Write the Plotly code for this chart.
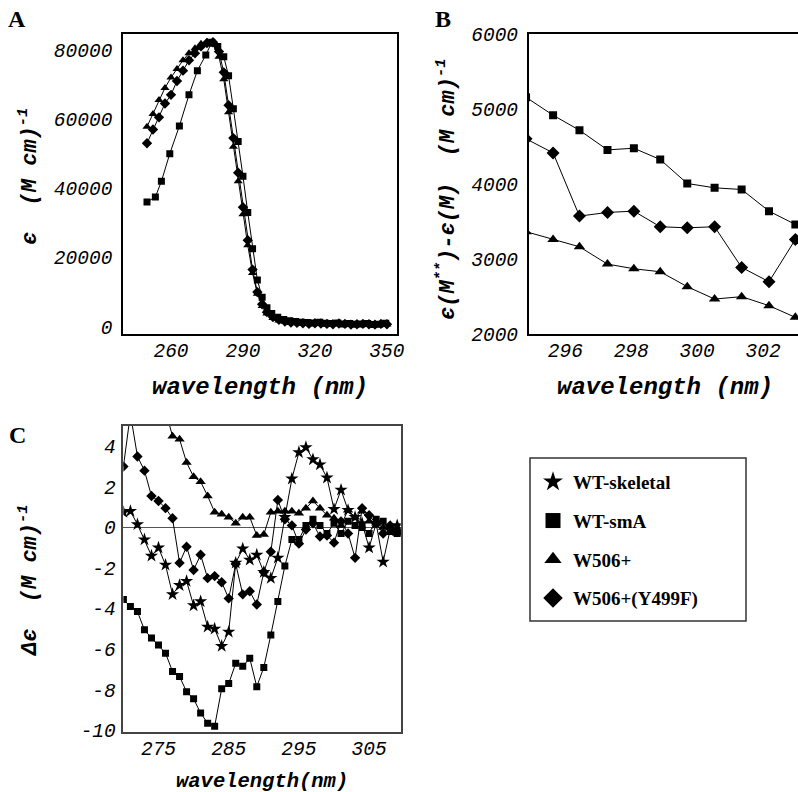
import plotly.graph_objects as go

# ---------------- Panel A data ----------------
a_sq_x = [250, 253.5, 256, 259.5, 263.5, 267.5, 271, 274.5, 277, 279.5, 282, 284, 286, 288, 290, 292, 294, 296, 298, 300,
          302, 304.5, 307, 309.5, 312, 314.5, 317, 319.5, 322, 324.5, 327, 329.5, 332, 334.5, 337, 339.5, 342, 344.5, 347, 349.5]
a_sq_y = [36000, 37500, 42000, 50000, 58000, 67000, 74000, 78500, 82200, 81000, 78000, 72500, 63000, 53500, 43500, 33000,
          22500, 13500, 8500, 5500, 3800, 2700, 2100, 1700, 1500, 1300, 1200, 1100, 1300, 1000, 900, 1100, 800, 900, 700,
          800, 900, 600, 700, 1000]
a_tri_x = [250, 252.5, 255, 257.5, 260, 262.5, 265, 267.5, 270, 272.5, 275, 277.5, 280, 282, 284, 286, 288, 290, 292, 294,
           296, 298, 300, 302.5, 305, 307.5, 310, 312.5, 315, 317.5, 320, 322.5, 325, 327.5, 330, 332.5, 335, 337.5, 340,
           342.5, 345, 347.5, 350]
a_tri_y = [57800, 61500, 65500, 69000, 72000, 74500, 77000, 79000, 80500, 81800, 82300, 81500, 78000, 71500, 62000, 52000,
           42000, 32500, 23500, 15500, 9500, 6000, 3800, 2500, 1800, 1400, 1100, 1000, 900, 1000, 800, 900, 700, 800, 900,
           600, 700, 600, 800, 600, 700, 500, 600]
a_dia_x = a_tri_x
a_dia_y = [53000, 57000, 60500, 64500, 67000, 71000, 74000, 77000, 79000, 81000, 82000, 82200, 79500, 73500, 64000, 54500,
           44500, 34500, 25000, 16500, 10000, 6500, 4200, 2800, 2000, 1500, 1200, 1100, 1000, 800, 1000, 900, 800, 700,
           900, 800, 600, 700, 800, 700, 600, 800, 700]
a_yticks = [0, 20000, 40000, 60000, 80000]
a_xticks = [260, 290, 320, 350]

# ---------------- Panel B data ----------------
b_x = [294.81, 295.63, 296.43, 297.28, 298.08, 298.88, 299.7, 300.53, 301.35, 302.18, 302.98]
b_sq = [5160, 4921, 4721, 4459, 4481, 4330, 4011, 3953, 3931, 3642, 3465]
b_dia = [4606, 4419, 3576, 3625, 3642, 3434, 3420, 3434, 2892, 2701, 3265]
b_tri = [3368, 3265, 3167, 2936, 2874, 2834, 2635, 2470, 2502, 2382, 2226]
b_yticks = [2000, 3000, 4000, 5000, 6000]
b_xticks = [296, 298, 300, 302]

# ---------------- Panel C data ----------------
c_x = list(range(270, 311))
c_star = [0.75, 0.8, 0.15, -0.6, -1.4, -1.0, -1.85, -3.3, -2.85, -2.65, -3.85, -3.65, -4.9, -5.0, -5.85, -5.15, -1.75,
          -1.05, -1.6, -1.35, -2.2, -2.5, -1.5, 0.5, 2.4, 3.7, 3.95, 3.35, 3.1, 2.45, 0.9, 1.85, 0.85, 0.5, 0.2, -1.0,
          0.2, -1.7, -0.1, 0.1, -0.2]
c_sq = [-3.55, -3.9, -4.15, -5.05, -5.45, -5.8, -6.2, -7.1, -7.35, -8.1, -8.45, -9.15, -9.65, -9.8, -7.95, -7.7, -6.7,
        -6.85, -6.45, -7.85, -6.9, -5.3, -3.65, -1.9, -0.6, -0.6, 0.1, 0.4, 0.1, -0.3, 0.2, -0.3, 0.3, 0.1, 0.0, -0.3,
        0.4, 0.3, -0.2, -0.3, -0.2]
c_tri_x = list(range(276, 311))
c_tri = [5.75, 4.5, 4.35, 3.2, 2.5, 2.25, 1.55, 0.75, 0.65, 0.5, 0.2, 0.5, 0.5, -0.4, -0.35, 0.75, 0.8, 0.8, 0.8, 0.7,
         0.95, 1.3, 0.95, 0.6, 0.45, 0.1, 0.85, 0.5, 0.8, 0.3, 0.2, 0.0, -0.2, -0.3, -0.2]
c_dia = [3.0, 5.6, 3.5, 2.8, 1.55, 1.3, 0.95, 0.45, -1.75, -0.95, -2.1, -1.35, -2.5, -2.4, -2.7, -3.5, -1.8, -3.3, -3.15,
         -3.8, -2.2, -1.2, 1.35, 0.4, 0.1, -0.8, -0.1, 0.2, -0.45, -0.4, -0.75, 0.3, -0.3, -1.5, 0.95, 0.6, 0.2, -0.3,
         0.1, -0.2, -0.3]
c_yticks = [-10, -8, -6, -4, -2, 0, 2, 4]
c_xticks = [275, 285, 295, 305]

series_names = ["WT-skeletal", "WT-smA", "W506+", "W506+(Y499F)"]
series_symbols = ["star", "square", "triangle-up", "diamond"]

W, H = 798, 792


def px_x(p):
    return p / W


def px_y(p):
    return 1 - p / H


fig = go.Figure()


def add(x, y, sym, size, xa, ya):
    fig.add_trace(go.Scatter(
        x=x, y=y, mode="lines+markers", xaxis=xa, yaxis=ya, showlegend=False,
        line=dict(color="black", width=1),
        marker=dict(symbol=sym, size=size, color="black", line=dict(width=0)),
        hoverinfo="skip"))


# Panel A
add(a_sq_x, a_sq_y, "square", 7, "x", "y")
add(a_tri_x, a_tri_y, "triangle-up", 8, "x", "y")
add(a_dia_x, a_dia_y, "diamond", 8, "x", "y")
# Panel B
add(b_x, b_sq, "square", 8, "x2", "y2")
add(b_x, b_dia, "diamond", 10, "x2", "y2")
add(b_x, b_tri, "triangle-up", 10, "x2", "y2")
# Panel C
add(c_x, c_sq, "square", 7, "x3", "y3")
add(c_tri_x, c_tri, "triangle-up", 9, "x3", "y3")
add(c_x, c_dia, "diamond", 8, "x3", "y3")
add(c_x, c_star, "star", 10, "x3", "y3")

# legend entries
for i, (nm, sym) in enumerate(zip(series_names, series_symbols)):
    fig.add_trace(go.Scatter(
        x=[None], y=[None], mode="markers", xaxis="x3", yaxis="y3", name=nm,
        legendgroup=nm, marker=dict(symbol=sym, size=15, color="black", line=dict(width=0))))

tickfont = dict(family="Liberation Mono", size=19.5, color="black", style="italic")
axis_common = dict(showgrid=False, zeroline=False, showline=True, linecolor="black", linewidth=1.5,
                   ticks="", tickfont=tickfont, automargin=False)

fig.update_layout(
    template="none",
    width=W, height=H, margin=dict(l=0, r=0, t=0, b=0, pad=0),
    plot_bgcolor="white", paper_bgcolor="white",
    xaxis=dict(domain=[px_x(123), px_x(397)], range=[240, 354.2], tickvals=a_xticks,
               ticktext=[str(v) for v in a_xticks], mirror=True,
               anchor="y", ticklabelstandoff=-2, **axis_common),
    yaxis=dict(domain=[px_y(334.3), px_y(34.3)], range=[-2200, 84500], tickvals=a_yticks,
               ticktext=[str(v) for v in a_yticks], mirror=True,
               anchor="x", ticklabelstandoff=5, **axis_common),
    xaxis2=dict(domain=[px_x(528.7), 1.0], range=[294.89, 303.06], tickvals=b_xticks,
                ticktext=[str(v) for v in b_xticks], mirror=True,
                anchor="y2", ticklabelstandoff=-2, **axis_common),
    yaxis2=dict(domain=[px_y(334.3), px_y(34.3)], range=[2000, 6000], tickvals=b_yticks,
                ticktext=[str(v) for v in b_yticks], mirror=False,
                anchor="x2", ticklabelstandoff=5, **axis_common),
    xaxis3=dict(domain=[px_x(123.4), px_x(400.7)], range=[270, 309.5], tickvals=c_xticks,
                ticktext=[str(v) for v in c_xticks], mirror=True,
                anchor="y3", ticklabelstandoff=-2, **{**axis_common, "linecolor": "#444"}),
    yaxis3=dict(domain=[px_y(732.3), px_y(426)], range=[-10.1, 5.0], tickvals=c_yticks,
                ticktext=[str(v) for v in c_yticks], mirror=True,
                anchor="x3", ticklabelstandoff=2, **{**axis_common, "linecolor": "#444", "zeroline": True,
                                                     "zerolinecolor": "#555", "zerolinewidth": 1.2}),
    legend=dict(x=px_x(533), y=px_y(463), xanchor="left", yanchor="top",
                borderwidth=0, bgcolor="rgba(0,0,0,0)",
                font=dict(family="Liberation Serif", size=19, color="black", weight="bold"),
                tracegroupgap=11, itemsizing="trace"),
    shapes=[dict(type="rect", xref="paper", yref="paper", x0=px_x(530), x1=px_x(746),
                 y0=px_y(621), y1=px_y(458), line=dict(color="#333", width=1.5),
                 fillcolor="rgba(0,0,0,0)", layer="above")],
)

title_font = dict(family="Liberation Mono", size=22, color="black", weight="bold", style="italic")
xt_font = dict(family="Liberation Mono", size=24, color="black", weight="bold", style="italic")
xt_font_c = dict(family="Liberation Mono", size=20.5, color="black", weight="bold", style="italic")
letter_font = dict(family="Liberation Serif", size=24, color="black", weight="bold")
nb = "\u00a0"

ann = [
    dict(x=px_x(17), y=px_y(19), text="A", font=letter_font),
    dict(x=px_x(443), y=px_y(19), text="B", font=letter_font),
    dict(x=px_x(17), y=px_y(435), text="C", font=letter_font),
    dict(x=px_x(260), y=px_y(388), text="wavelength" + nb + "(nm)", font=xt_font),
    dict(x=px_x(665), y=px_y(388), text="wavelength" + nb + "(nm)", font=xt_font),
    dict(x=px_x(262), y=px_y(781), text="wavelength(nm)", font=xt_font_c),
    dict(x=px_x(28), y=px_y(177), text="є" + nb * 2 + "(M cm)<sup>-1</sup>", font=title_font, textangle=-90),
    dict(x=px_x(447), y=px_y(190), text="є(M<sup>**</sup>)-є(M)" + nb * 2 + "(M cm)<sup>-1</sup>",
         font=title_font, textangle=-90),
    dict(x=px_x(28), y=px_y(580), text="Δє" + nb * 2 + "(M cm)<sup>-1</sup>", font=title_font, textangle=-90),
]
for a in ann:
    a.update(xref="paper", yref="paper", showarrow=False, xanchor="center", yanchor="middle")
fig.update_layout(annotations=ann)

fig.write_html("out.html", config={"displayModeBar": False},
               post_script="document.body.style.margin='0px';")
